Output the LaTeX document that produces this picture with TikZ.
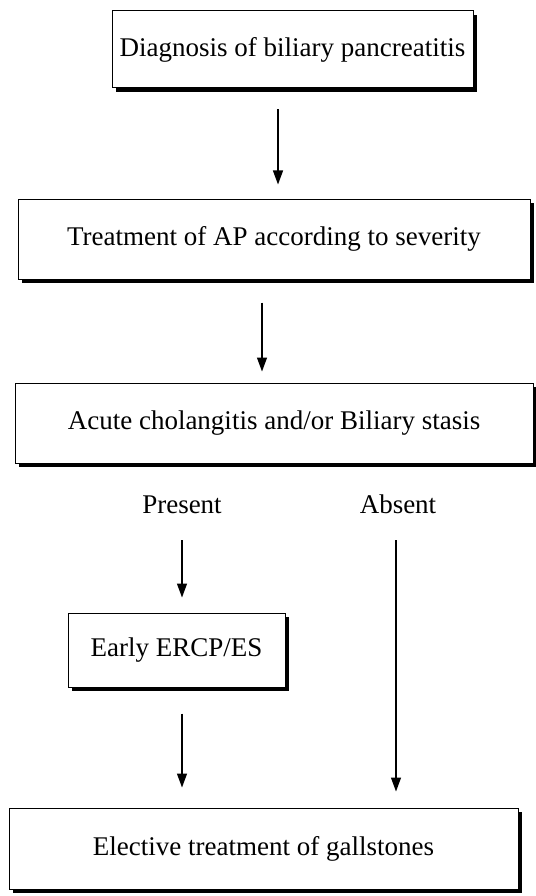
\documentclass[tikz,border=0pt]{standalone}
\usepackage{fontspec}
\setmainfont{Liberation Serif}
\usetikzlibrary{arrows.meta,shadows}
\tikzset{
  box/.style={draw, line width=1pt, fill=white, inner sep=0pt, align=center,
    drop shadow={shadow xshift=4pt, shadow yshift=-4pt, fill=black, opacity=1}},
  lbl/.style={inner sep=0pt, anchor=base},
  arr/.style={line width=1.3pt, -{Triangle[length=14pt,width=10pt]}}
}
\begin{document}
\begin{tikzpicture}[x=1pt,y=-1pt,font=\fontsize{27}{32}\selectfont]
        \useasboundingbox (0,0) rectangle (535,896);

        \coordinate (mid1) at (278,0);
        \coordinate (mid2) at (262,0);
        \coordinate (left) at (182,0);
        \coordinate (right) at (396,0);

        \node[box, minimum width=361pt, minimum height=77pt] (diag) at (292.5,49.5) {Diagnosis of biliary pancreatitis};
        \node[box, minimum width=512pt, minimum height=80pt] (treat) at (274,239) {Treatment of AP according to severity};
        \node[box, minimum width=518pt, minimum height=80pt] (chol) at (274,423) {Acute cholangitis and/or Biliary stasis};
        \node[box, minimum width=217pt, minimum height=74pt] (ercp) at (176.5,650) {Early ERCP/ES};
        \node[box, minimum width=509pt, minimum height=81pt] (elect) at (263.5,848.5) {Elective treatment of gallstones};

        \node[lbl] (present) at (182,513) {Present};
        \node[lbl] (absent) at (398,513) {Absent};

        \draw[arr, shorten <=21pt, shorten >=14pt] (diag.south -| mid1) -- (treat.north -| mid1);
        \draw[arr, shorten <=23pt, shorten >=11pt] (treat.south -| mid2) -- (chol.north -| mid2);
        \draw[arr, shorten <=27pt, shorten >=15pt] (present.south -| left) -- (ercp.north -| left);
        \draw[arr, shorten <=26pt, shorten >=20pt] (ercp.south -| left) -- (elect.north -| left);
        \draw[arr, shorten <=27pt, shorten >=16pt] (absent.south -| right) -- (elect.north -| right);

\end{tikzpicture}
\end{document}
